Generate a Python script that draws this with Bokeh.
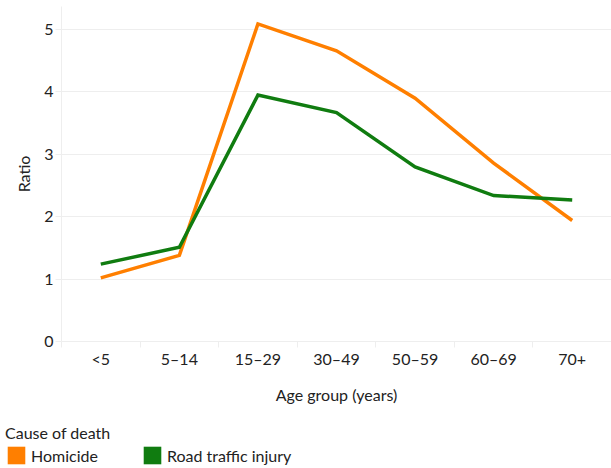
from bokeh.plotting import figure
from bokeh.layouts import column
from bokeh.models import Range1d, FixedTicker, Legend, LegendItem
from bokeh.embed import file_html
from bokeh.resources import INLINE

# ---- data ----
ages = ["<5", "5–14", "15–29", "30–49", "50–59", "60–69", "70+"]
homicide = [1.02, 1.38, 5.09, 4.66, 3.90, 2.86, 1.94]
road_traffic = [1.24, 1.51, 3.95, 3.67, 2.80, 2.34, 2.27]
y_ticks = [0, 1, 2, 3, 4, 5]
series_names = ["Homicide", "Road traffic injury"]
series_colors = ["#ff7f00", "#107c10"]
legend_title = "Cause of death"
x_title = "Age group (years)"
y_title = "Ratio"

FONT = "Lato"
FS = "16px"
TXT = "#222222"
GRID = "#eeeeee"

x = list(range(len(ages)))
series_values = [homicide, road_traffic]

# ---- main chart ----
p = figure(width=611, height=422, output_backend="svg", toolbar_location=None,
           x_range=Range1d(-0.5, len(ages) - 0.5), y_range=Range1d(0, 5.37),
           min_border_left=61, min_border_right=0, min_border_top=6,
           min_border_bottom=81)
p.frame_align = False
p.outline_line_color = None
p.background_fill_color = "white"
p.border_fill_color = "white"

p.xgrid.visible = False
p.ygrid.grid_line_color = GRID
p.ygrid.grid_line_width = 1

# y axis
p.yaxis.ticker = FixedTicker(ticks=y_ticks)
p.yaxis.axis_line_color = GRID
p.yaxis.major_tick_line_color = GRID
p.yaxis.major_tick_out = 6
p.yaxis.major_tick_in = 0
p.yaxis.minor_tick_line_color = None
p.yaxis.major_label_standoff = 2
p.yaxis.axis_label = y_title
p.yaxis.axis_label_standoff = 8

# x axis: labels at category centres, ticks at category boundaries
bounds = [i - 0.5 for i in range(len(ages) + 1)]
p.xaxis.ticker = FixedTicker(ticks=x, minor_ticks=bounds)
p.xaxis.major_label_overrides = {i: lab for i, lab in enumerate(ages)}
p.xaxis.axis_line_color = GRID
p.xaxis.major_tick_line_color = None
p.xaxis.major_tick_out = 0
p.xaxis.major_tick_in = 0
p.xaxis.minor_tick_line_color = GRID
p.xaxis.minor_tick_out = 6
p.xaxis.minor_tick_in = 0
p.xaxis.major_label_standoff = 1
p.xaxis.axis_label = x_title
p.xaxis.axis_label_standoff = 14

for ax in (p.xaxis, p.yaxis):
    ax.major_label_text_font = FONT
    ax.major_label_text_font_size = FS
    ax.major_label_text_color = TXT
    ax.axis_label_text_font = FONT
    ax.axis_label_text_font_size = FS
    ax.axis_label_text_font_style = "normal"
    ax.axis_label_text_color = TXT

for vals, c in zip(series_values, series_colors):
    p.line(x, vals, line_color=c, line_width=3.5, line_join="miter")

# ---- legend strip ----
lg = figure(width=611, height=46, output_backend="svg", toolbar_location=None,
            x_axis_location=None, y_axis_location=None,
            x_range=Range1d(-0.5, len(ages) - 0.5), y_range=Range1d(0, 5.37),
            min_border_left=0, min_border_right=0, min_border_top=0,
            min_border_bottom=0)
lg.frame_align = False
lg.grid.visible = False
lg.outline_line_color = None

items = []
for name, vals, c in zip(series_names, series_values, series_colors):
    # zero-area boxes: only serve as the legend swatch
    r = lg.quad(left=x, right=x, top=vals, bottom=vals, fill_color=c,
                line_color=None)
    items.append(LegendItem(label=name, renderers=[r]))

legend = Legend(items=items, location=(5, 2), orientation="horizontal",
                title=legend_title)
legend.title_text_font = FONT
legend.title_text_font_size = FS
legend.title_text_font_style = "normal"
legend.title_text_color = TXT
legend.title_standoff = 2
legend.label_text_font = FONT
legend.label_text_font_size = FS
legend.label_text_color = TXT
legend.glyph_width = 22
legend.glyph_height = 22
legend.label_standoff = 4
legend.spacing = 43
legend.padding = 0
legend.margin = 0
legend.border_line_color = None
legend.background_fill_alpha = 0
lg.add_layout(legend, "center")

layout = column(p, lg, spacing=0)
open("out.html", "w").write(file_html(layout, INLINE))
